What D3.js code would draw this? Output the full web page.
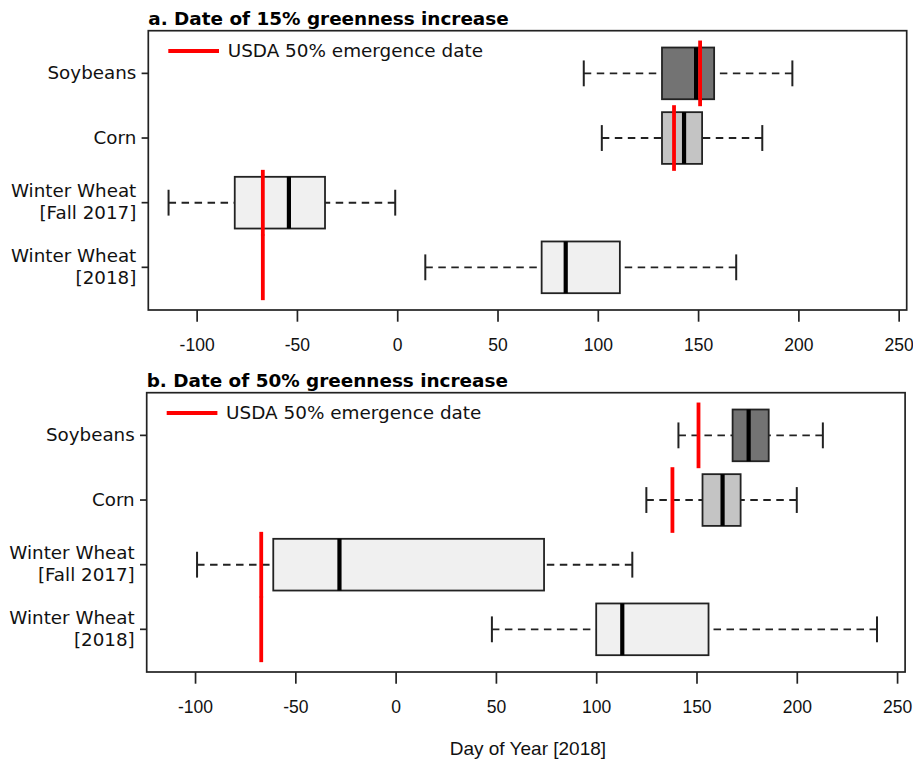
<!DOCTYPE html>
<html>
<head>
<meta charset="utf-8">
<script src="https://cdn.jsdelivr.net/npm/d3@7"></script>
<style>
  html, body { margin: 0; padding: 0; background: #fff; }
  svg { display: block; }
</style>
</head>
<body>
<svg id="chart" width="913" height="760"></svg>
<script>
// Crop categories, listed top to bottom
const categories = ["Soybeans", "Corn", "Winter Wheat [Fall 2017]", "Winter Wheat [2018]"];
const categoryLines = [["Soybeans"], ["Corn"], ["Winter Wheat", "[Fall 2017]"], ["Winter Wheat", "[2018]"]];
const boxFills = ["#737373", "#c4c4c4", "#f0f0f0", "#f0f0f0"];

// USDA 50% emergence date (day of year 2018)
const usdaEmergenceDoy = [151, 138, -67, -67];

// Date of 15% greenness increase: five-number summaries
const g15Min    = [93, 102, -114, 14];
const g15Q1     = [132, 132, -81, 72];
const g15Median = [149, 143, -54, 84];
const g15Q3     = [158, 152, -36, 111];
const g15Max    = [197, 182, -1, 169];

// Date of 50% greenness increase: five-number summaries
const g50Min    = [141, 125, -99, 48];
const g50Q1     = [168, 153, -61, 100];
const g50Median = [176, 163, -28, 113];
const g50Q3     = [186, 172, 74, 156];
const g50Max    = [213, 200, 118, 240];

const xTicks = [-100, -50, 0, 50, 100, 150, 200, 250];
const xDomain = [-124.1, 254.0];

const panelTitles = ["a. Date of 15% greenness increase", "b. Date of 50% greenness increase"];
const legendLabel = "USDA 50% emergence date";
const xAxisTitle = "Day of Year [2018]";

const svg = d3.select("#chart");
const plotW = 758.4, plotH = 279.3;

function drawPanel(left, top, title, mins, q1s, meds, q3s, maxs) {
  const g = svg.append("g").attr("transform", `translate(${left},${top})`);

  const x = d3.scaleLinear().domain(xDomain).range([0, plotW]);
  const y = d3.scaleBand().domain(categories).range([0, plotH])
    .paddingInner(0.2).paddingOuter(0.26);
  const bw = y.bandwidth();
  const step = y.step();
  const cy = d => y(d) + bw / 2;

  const rows = categories.map((c, i) => ({
    c, i, min: mins[i], q1: q1s[i], med: meds[i], q3: q3s[i], max: maxs[i]
  }));

  const box = g.append("g").selectAll("g").data(rows).join("g");

  // dashed whiskers
  box.append("line")
    .attr("x1", d => x(d.min)).attr("x2", d => x(d.q1))
    .attr("y1", d => cy(d.c)).attr("y2", d => cy(d.c))
    .attr("stroke", "#222").attr("stroke-width", 1.9).attr("stroke-dasharray", "7.5,5.5");
  box.append("line")
    .attr("x1", d => x(d.max)).attr("x2", d => x(d.q3))
    .attr("y1", d => cy(d.c)).attr("y2", d => cy(d.c))
    .attr("stroke", "#222").attr("stroke-width", 1.9).attr("stroke-dasharray", "7.5,5.5");
  // whisker caps
  ["min", "max"].forEach(k => {
    box.append("line")
      .attr("x1", d => x(d[k])).attr("x2", d => x(d[k]))
      .attr("y1", d => cy(d.c) - bw / 4).attr("y2", d => cy(d.c) + bw / 4)
      .attr("stroke", "#222").attr("stroke-width", 2);
  });
  // interquartile boxes
  box.append("rect")
    .attr("x", d => x(d.q1)).attr("width", d => x(d.q3) - x(d.q1))
    .attr("y", d => y(d.c)).attr("height", bw)
    .attr("fill", d => boxFills[d.i])
    .attr("stroke", "#222").attr("stroke-width", 1.8);
  // medians
  box.append("line")
    .attr("x1", d => x(d.med)).attr("x2", d => x(d.med))
    .attr("y1", d => y(d.c)).attr("y2", d => y(d.c) + bw)
    .attr("stroke", "#000").attr("stroke-width", 4.2);

  // USDA emergence markers
  g.append("g").selectAll("line").data(rows).join("line")
    .attr("x1", d => x(usdaEmergenceDoy[d.i])).attr("x2", d => x(usdaEmergenceDoy[d.i]))
    .attr("y1", d => cy(d.c) - step / 2 - 0.5).attr("y2", d => cy(d.c) + step / 2 + 0.5)
    .attr("stroke", "#ff0000").attr("stroke-width", 3.8);

  // plot frame
  g.append("rect").attr("x", 0).attr("y", 0).attr("width", plotW).attr("height", plotH)
    .attr("fill", "none").attr("stroke", "#222").attr("stroke-width", 1.7);

  // x axis
  const xa = g.append("g").attr("transform", `translate(0,${plotH})`)
    .call(d3.axisBottom(x).tickValues(xTicks).tickSize(11.7).tickFormat(d => String(d)));
  xa.select(".domain").remove();
  xa.selectAll(".tick line").attr("stroke", "#222").attr("stroke-width", 1.7);
  xa.selectAll(".tick text")
    .attr("y", 40.5).attr("dy", null)
    .attr("font-family", "'Liberation Sans', Arial, sans-serif")
    .attr("font-size", 17.5).attr("fill", "#111");

  // y axis
  const ya = g.append("g").call(d3.axisLeft(y).tickSize(6.7).tickFormat(""));
  ya.select(".domain").remove();
  ya.selectAll(".tick line").attr("stroke", "#222").attr("stroke-width", 1.7);
  ya.selectAll(".tick").each(function (d, i) {
    const lines = categoryLines[i];
    const t = d3.select(this).append("text")
      .attr("text-anchor", "end")
      .attr("font-family", "'DejaVu Sans', Verdana, sans-serif")
      .attr("font-size", 18.3).attr("fill", "#111");
    const lh = 22;
    lines.forEach((s, j) => {
      t.append("tspan").attr("x", -12)
        .attr("y", (j - (lines.length - 1) / 2) * lh + 5.5)
        .text(s);
    });
  });

  // legend
  g.append("line").attr("x1", 20).attr("x2", 70.7).attr("y1", 20.3).attr("y2", 20.3)
    .attr("stroke", "#ff0000").attr("stroke-width", 3.8);
  g.append("text").attr("x", 79.4).attr("y", 26.6)
    .attr("font-family", "'DejaVu Sans', Verdana, sans-serif")
    .attr("font-size", 18.4).attr("fill", "#111")
    .text(legendLabel);

  // panel title
  g.append("text").attr("x", 0).attr("y", -5.7)
    .attr("font-family", "'DejaVu Sans', Verdana, sans-serif")
    .attr("font-weight", "bold").attr("font-size", 18.4).attr("fill", "#000")
    .text(title);

  return { left, top };
}

drawPanel(148.3, 30.7, panelTitles[0], g15Min, g15Q1, g15Median, g15Q3, g15Max);
const pb = drawPanel(146.7, 392.7, panelTitles[1], g50Min, g50Q1, g50Median, g50Q3, g50Max);

svg.append("text")
  .attr("x", pb.left + plotW / 2 + 2).attr("y", 755)
  .attr("text-anchor", "middle")
  .attr("font-family", "'Liberation Sans', Arial, sans-serif")
  .attr("font-size", 19).attr("fill", "#111")
  .text(xAxisTitle);
</script>
</body>
</html>
